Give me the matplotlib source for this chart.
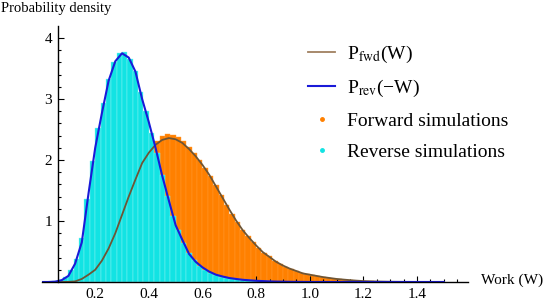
import numpy as np
import matplotlib.pyplot as plt
from matplotlib.lines import Line2D

plt.rcParams["font.family"] = ["Liberation Serif", "DejaVu Serif"]
plt.rcParams["mathtext.fontset"] = "stix"

# analytic curves at W = 0, 0.025, ..., 1.5
w_curve = np.round(np.arange(0, 1.5001, 0.025), 3)
p_rev = [0, 0, 0.005, 0.03, 0.1, 0.3, 0.65, 1.45, 2.2, 2.77, 3.3, 3.62, 3.75,
         3.68, 3.45, 3.0, 2.62, 2.2, 1.74, 1.33, 0.93, 0.69, 0.46, 0.33, 0.24,
         0.17, 0.12, 0.09, 0.065, 0.05, 0.036, 0.028, 0.02, 0.015, 0.01, 0.007,
         0.005, 0.003, 0.002, 0.001, 0, 0, 0, 0, 0, 0, 0, 0, 0, 0, 0, 0, 0, 0,
         0, 0, 0, 0, 0, 0, 0]
p_fwd = [0, 0, 0, 0, 0.002, 0.01, 0.05, 0.12, 0.2, 0.35, 0.55, 0.8, 1.1, 1.4,
         1.68, 1.95, 2.12, 2.25, 2.33, 2.36, 2.34, 2.28, 2.18, 2.06, 1.92,
         1.76, 1.57, 1.38, 1.19, 1.01, 0.85, 0.72, 0.6, 0.49, 0.41, 0.33, 0.27,
         0.22, 0.18, 0.14, 0.12, 0.1, 0.08, 0.065, 0.05, 0.04, 0.03, 0.022,
         0.015, 0.011, 0.008, 0.006, 0.004, 0.003, 0.002, 0.0015, 0.001,
         0.0005, 0, 0, 0]

# simulation histograms, bins of width 0.02 starting at 0
bin_edges = np.round(np.arange(0, 1.5001, 0.02), 3)
hist_rev = [0, 0, 0.01, 0.04, 0.09, 0.2, 0.38, 0.72, 1.36, 1.98, 2.52, 2.93,
            3.33, 3.6, 3.75, 3.77, 3.66, 3.46, 3.12, 2.8, 2.45, 2.12, 1.75,
            1.41, 1.09, 0.85, 0.64, 0.48, 0.36, 0.27, 0.2, 0.15, 0.12, 0.09,
            0.07, 0.055, 0.045, 0.035, 0.028, 0.022, 0.018, 0.014, 0.01, 0.008,
            0.006, 0.004, 0.003, 0.002, 0.001, 0, 0, 0, 0, 0, 0, 0, 0, 0, 0,
            0, 0, 0, 0, 0, 0, 0, 0, 0, 0, 0, 0, 0, 0, 0, 0]
hist_fwd = [0, 0, 0, 0, 0, 0.005, 0.02, 0.05, 0.1, 0.17, 0.26, 0.38, 0.55,
            0.75, 0.98, 1.22, 1.46, 1.68, 1.9, 2.06, 2.2, 2.32, 2.39, 2.42,
            2.41, 2.37, 2.31, 2.22, 2.12, 2.0, 1.87, 1.73, 1.59, 1.43, 1.27,
            1.12, 0.98, 0.86, 0.75, 0.65, 0.56, 0.48, 0.42, 0.35, 0.3, 0.25,
            0.22, 0.18, 0.15, 0.13, 0.12, 0.1, 0.08, 0.065, 0.055, 0.045, 0.035,
            0.03, 0.022, 0.017, 0.013, 0.01, 0.008, 0.006, 0.004, 0.003, 0.002,
            0.001, 0, 0, 0, 0, 0, 0, 0]

x_ticks = [0.2, 0.4, 0.6, 0.8, 1.0, 1.2, 1.4]
y_ticks = [1, 2, 3, 4]

fig = plt.figure(figsize=(5.47, 3.01), dpi=100)
ax = fig.add_axes([0.076, 0.0591, 0.7795, 0.855])

width = np.diff(bin_edges)
ax.bar(bin_edges[:-1], hist_fwd, width=width, align="edge", color="#ff8000",
       edgecolor="#ff9a33", linewidth=0.3, zorder=1)
ax.bar(bin_edges[:-1], hist_rev, width=width, align="edge", color="#12e3e3",
       edgecolor="#8cf3f3", linewidth=0.3, zorder=2)
ax.plot(w_curve, p_fwd, color="#6e5535", lw=1.3, zorder=3)
ax.plot(w_curve, p_rev, color="#1a1ad8", lw=1.5, zorder=4)

ax.set_xlim(0, 1.59)
ax.set_ylim(-0.02, 4.2)
ax.spines["left"].set_position(("data", 0.06))
ax.spines["bottom"].set_position(("data", 0))
ax.spines["right"].set_visible(False)
ax.spines["top"].set_visible(False)
for s in ("left", "bottom"):
    ax.spines[s].set_linewidth(1.0)
    ax.spines[s].set_zorder(5)
ax.spines["left"].set_bounds(0, 4.2)

ax.set_xticks(x_ticks)
ax.set_xticklabels([f"{t:.1f}" for t in x_ticks])
ax.set_xticks(np.arange(0.1, 1.5601, 0.05), minor=True)
ax.set_yticks(y_ticks)
ax.set_yticks([v for v in np.arange(0.2, 4.1, 0.2) if abs(v - round(v)) > 0.01],
              minor=True)
ax.tick_params(which="both", direction="in", labelsize=11, width=0.8)
ax.tick_params(which="major", length=4, pad=4)
ax.tick_params(which="minor", length=2.5)

fig.text(0.002, 0.995, "Probability density", fontsize=10.5, va="top", ha="left")
fig.text(0.88, 0.07, "Work (W)", fontsize=11, va="center", ha="left")

handles = [
    Line2D([], [], color="#a08060", lw=1.3),
    Line2D([], [], color="#1a1ad8", lw=1.5),
    Line2D([], [], color="#ff8000", marker="o", ms=2.5, ls="none"),
    Line2D([], [], color="#12e3e3", marker="o", ms=2.5, ls="none"),
]
labels = [r"P$_{\mathrm{fwd}}$(W)", "P$_{\\mathrm{rev}}$(\u2212W)",
          "Forward simulations", "Reverse simulations"]
fig.legend(handles, labels, loc="upper left", bbox_to_anchor=(0.563, 0.855),
           frameon=False, fontsize=14, borderpad=0, borderaxespad=0,
           handlelength=1.4, handletextpad=0.62, labelspacing=0.68)

fig.savefig("out.png", dpi=100)
